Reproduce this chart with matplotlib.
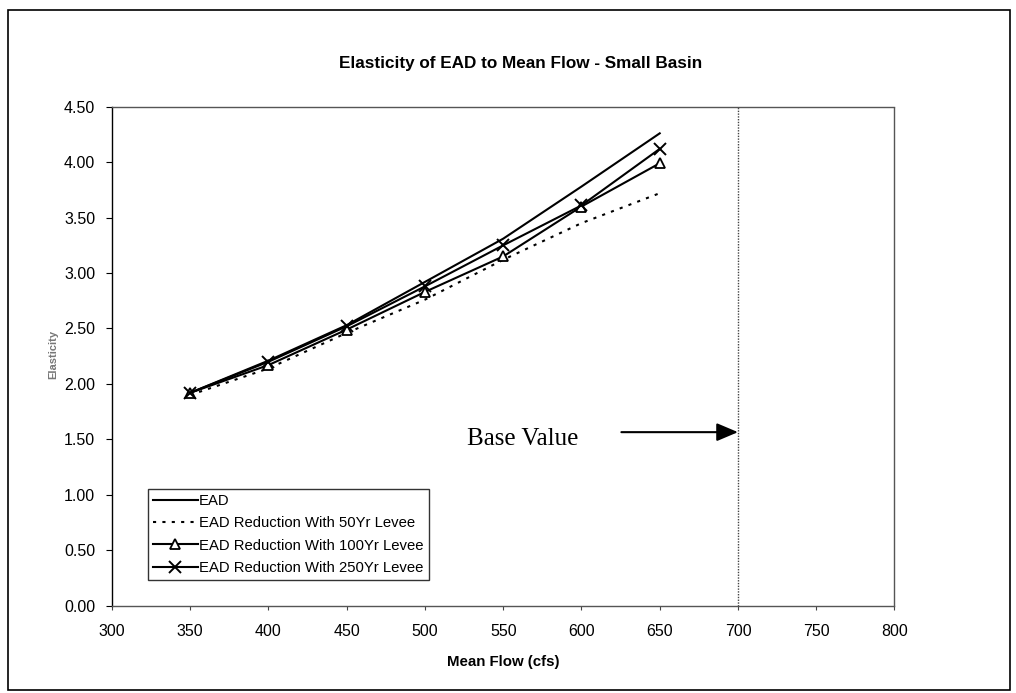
import matplotlib.pyplot as plt
from matplotlib.patches import Rectangle

# -----------------------------
# Data
# -----------------------------
mean_flow = [350, 400, 450, 500, 550, 600, 650]
ead = [1.92, 2.21, 2.53, 2.92, 3.31, 3.78, 4.26]
ead_50yr = [1.90, 2.14, 2.46, 2.76, 3.12, 3.45, 3.72]
ead_100yr = [1.92, 2.17, 2.49, 2.83, 3.15, 3.60, 3.99]
ead_250yr = [1.92, 2.20, 2.52, 2.88, 3.25, 3.61, 4.12]

base_flow = 700
base_arrow_y = 1.565

x_ticks = [300, 350, 400, 450, 500, 550, 600, 650, 700, 750, 800]
y_ticks = [0.0, 0.5, 1.0, 1.5, 2.0, 2.5, 3.0, 3.5, 4.0, 4.5]

plt.rcParams['font.family'] = ['Liberation Sans', 'DejaVu Sans']

fig = plt.figure(figsize=(10.16, 6.93), dpi=100)
ax = fig.add_axes([0.1102, 0.126, 0.7702, 0.720])

# outer frame round the chart
fig.patches.append(Rectangle((0.008, 0.004), 0.986, 0.982, transform=fig.transFigure,
                             fill=False, edgecolor='black', linewidth=1.2))

# -----------------------------
# Series
# -----------------------------
ax.plot(mean_flow, ead, color='black', linewidth=1.5, label='EAD')
ax.plot(mean_flow, ead_50yr, color='black', linewidth=1.5, linestyle=(0, (1.5, 3)),
        label='EAD Reduction With 50Yr Levee')
ax.plot(mean_flow, ead_100yr, color='black', linewidth=1.5, marker='^', markersize=7,
        markerfacecolor='white', markeredgecolor='black', markeredgewidth=1.3,
        label='EAD Reduction With 100Yr Levee')
ax.plot(mean_flow, ead_250yr, color='black', linewidth=1.5, marker='x', markersize=8,
        markeredgewidth=1.4, label='EAD Reduction With 250Yr Levee')

# base value line and arrow
ax.axvline(base_flow, color='#444444', linewidth=1.0, linestyle=(0, (1, 1)))
ax.annotate('', xy=(base_flow, base_arrow_y), xytext=(625.5, base_arrow_y),
            arrowprops=dict(arrowstyle='-|>,head_length=1.3,head_width=0.55',
                            color='black', linewidth=1.5, shrinkA=0, shrinkB=0))
ax.text(527, 1.50, 'Base Value', family='Liberation Serif', fontsize=18,
        ha='left', va='center')

# -----------------------------
# Axes styling
# -----------------------------
ax.set_xlim(300, 800)
ax.set_ylim(0, 4.5)
ax.set_xticks(x_ticks)
ax.set_yticks(y_ticks)
ax.set_xticklabels([str(v) for v in x_ticks], fontsize=11.5)
ax.set_yticklabels(['%.2f' % v for v in y_ticks], fontsize=11.5)
ax.tick_params(axis='x', direction='out', length=3, pad=10, color='#444444')
ax.tick_params(axis='y', direction='out', length=4, pad=8)

ax.spines['left'].set_color('black')
ax.spines['left'].set_linewidth(1.0)
for side in ['top', 'right', 'bottom']:
    ax.spines[side].set_color('#555555')
    ax.spines[side].set_linestyle((0, (1, 1)))
    ax.spines[side].set_linewidth(1.0)

ax.set_xlabel('Mean Flow (cfs)', fontsize=10.8, fontweight='bold', labelpad=12)
fig.text(0.052, 0.488, 'Elasticity', rotation=90, fontsize=8, fontweight='bold',
         color='#777777', ha='center', va='center')
fig.text(0.512, 0.908, 'Elasticity of EAD to Mean Flow - Small Basin',
         fontsize=12.3, fontweight='bold', ha='center', va='center')

leg = ax.legend(loc='lower left', bbox_to_anchor=(0.046, 0.0515), borderaxespad=0,
                fontsize=10.7, frameon=True, fancybox=False, handlelength=3.0,
                handletextpad=0.1, labelspacing=0.55, borderpad=0.35, numpoints=1)
leg.get_frame().set_edgecolor('black')
leg.get_frame().set_linewidth(1.0)

fig.savefig('out.png', dpi=100)
